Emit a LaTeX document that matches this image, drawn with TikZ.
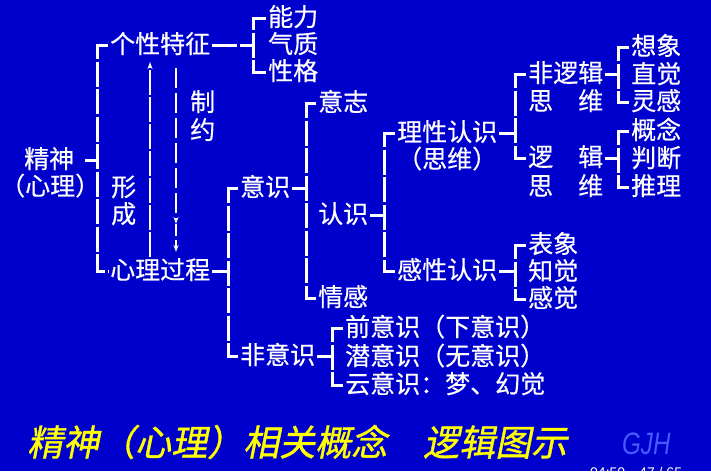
\documentclass[tikz,border=0pt]{standalone}
\usepackage{fontspec}
\newfontfamily\cjk[FakeBold=0.4]{Noto Sans CJK SC}
\newfontfamily\cjktitle[FakeSlant=0.2,FakeBold=1]{Noto Sans CJK SC}
\setsansfont{Liberation Sans}
\usetikzlibrary{arrows.meta,calc}
\definecolor{SlideBlue}{RGB}{0,0,204}
\definecolor{TitleYellow}{RGB}{255,255,0}
\definecolor{MarkBlue}{RGB}{70,90,255}

\tikzset{
  term/.style={anchor=west, inner sep=0pt, text=white, text height=1.7em, text depth=0.08em,
    font=\cjk\fontsize{25pt}{27pt}\selectfont},
  bar/.style={draw=white, line width=3pt, dash pattern=on 25pt off 2.5pt, shorten <=2pt, shorten >=2pt},
  uparr/.style={draw=white, line width=2pt, dash pattern=on 25pt off 2pt, -{Stealth[length=7pt,width=5pt]}},
  downarr/.style={draw=white, line width=1.5pt, dash pattern=on 20pt off 5pt, -{Stealth[length=7pt,width=5pt]}}
}

\begin{document}
\begin{tikzpicture}[x=1pt, y=-1pt]
  \fill[SlideBlue] (0,0) rectangle (711,471);
  \useasboundingbox (0,0) rectangle (711,471);

  \node[term] (jingshen) at (24,160) {精神};
  \node[term] (jingshen2) at (0,187) {（心理）};
  \node[term] (gexing) at (110,45) {个性特征};
  \node[term] (nengli) at (268,18) {能力};
  \node[term] (qizhi) at (268,45) {气质};
  \node[term] (xingge) at (268,72) {性格};
  \node[term] (zhi) at (190,103) {制};
  \node[term] (yue) at (190,131) {约};
  \node[term] (xing) at (111,188) {形};
  \node[term] (cheng) at (111,215) {成};
  \node[term] (xinli) at (110,271) {心理过程};
  \node[term] (yishi) at (240,188) {意识};
  \node[term] (yizhi) at (318,103) {意志};
  \node[term] (renshi) at (318,215) {认识};
  \node[term] (qinggan) at (318,298) {情感};
  \node[term] (lixing) at (397,133) {理性认识};
  \node[term] (lixing2) at (397,160) {（思维）};
  \node[term] (ganxing) at (397,271) {感性认识};
  \node[term] (feiluoji) at (528,74) {非逻辑};
  \node[term] (feiluoji2) at (528,102) {思　维};
  \node[term] (luoji) at (528,158) {逻　辑};
  \node[term] (luoji2) at (528,187) {思　维};
  \node[term] (xiangxiang) at (631,47) {想象};
  \node[term] (zhijue) at (631,75) {直觉};
  \node[term] (linggan) at (631,102) {灵感};
  \node[term] (gainian) at (631,131) {概念};
  \node[term] (panduan) at (631,159) {判断};
  \node[term] (tuili) at (631,187) {推理};
  \node[term] (biaoxiang) at (528,245) {表象};
  \node[term] (zhijue2) at (528,272) {知觉};
  \node[term] (ganjue) at (528,299) {感觉};
  \node[term] (feiyishi) at (240,356) {非意识};
  \node[term] (qianyishi) at (345,328) {前意识（下意识）};
  \node[term] (qianyishi2) at (345,357) {潜意识（无意识）};
  \node[term] (yunyishi) at (345,385) {云意识：梦、幻觉};

  \coordinate (b1) at (97,160);
  \coordinate (b2) at (253,45);
  \coordinate (b3) at (228,271);
  \coordinate (b4) at (306,188);
  \coordinate (b5) at (384,215);
  \coordinate (b6) at (515,133);
  \coordinate (b7) at (618,74);
  \coordinate (b8) at (618,158);
  \coordinate (b9) at (515,271);
  \coordinate (b10) at (332,356);

  \draw[bar, shorten <=11pt, shorten >=0pt] (jingshen.east) -- (b1);
  \draw[bar] (gexing.west) -| (b1) |- (xinli.west);
  \draw[bar, shorten >=0pt] (gexing.east) -- (b2);
  \draw[bar] (nengli.west) -| (b2) |- (xingge.west);
  \draw[bar, shorten >=0pt] (xinli.east) -- (b3);
  \draw[bar] (yishi.west) -| (b3) |- (feiyishi.west);
  \draw[bar, shorten >=0pt] (yishi.east) -- (b4);
  \draw[bar] (yizhi.west) -| (b4) |- (qinggan.west);
  \draw[bar, shorten >=0pt] (renshi.east) -- (b5);
  \draw[bar] (lixing.west) -| (b5) |- (ganxing.west);
  \draw[bar, shorten >=0pt] (lixing.east) -- (b6);
  \draw[bar] (feiluoji.west) -| (b6) |- (luoji.west);
  \draw[bar, shorten >=0pt] (feiluoji.east) -- (b7);
  \draw[bar] (xiangxiang.west) -| (b7) |- (linggan.west);
  \draw[bar, shorten >=0pt] (luoji.east) -- (b8);
  \draw[bar] (gainian.west) -| (b8) |- (tuili.west);
  \draw[bar, shorten >=0pt] (ganxing.east) -- (b9);
  \draw[bar] (biaoxiang.west) -| (b9) |- (ganjue.west);
  \draw[bar, shorten >=0pt] (feiyishi.east) -- (b10);
  \draw[bar] (qianyishi.west) -| (b10) |- (yunyishi.west);

  \coordinate (zhiyue) at ([xshift=66pt,yshift=47pt]xinli.west);
  \draw[uparr] ([xshift=40pt,yshift=14pt]xinli.west) -- ([xshift=40pt,yshift=-17pt]gexing.west);
  \draw[downarr] ([xshift=66pt,yshift=-23pt]gexing.west) -- (zhiyue);
  \draw[downarr, dash pattern=on 12pt off 4pt] (zhiyue) -- ([xshift=66pt,yshift=19pt]xinli.west);

  \node[anchor=west, inner sep=0pt, text=TitleYellow, font=\cjktitle\fontsize{36pt}{40pt}\selectfont] (title) at (27,442) {精神（心理）相关概念　逻辑图示};
  \node[anchor=west, inner sep=0pt, text=MarkBlue, xscale=0.78, font=\sffamily\itshape\fontsize{31pt}{34pt}\selectfont] (mark) at (622,444) {GJH};
  \node[anchor=base west, inner sep=0pt, text=white, font=\sffamily\fontsize{14pt}{16pt}\selectfont] (pageno) at (590,477) {04:50\quad 47 / 65};
\end{tikzpicture}
\end{document}
